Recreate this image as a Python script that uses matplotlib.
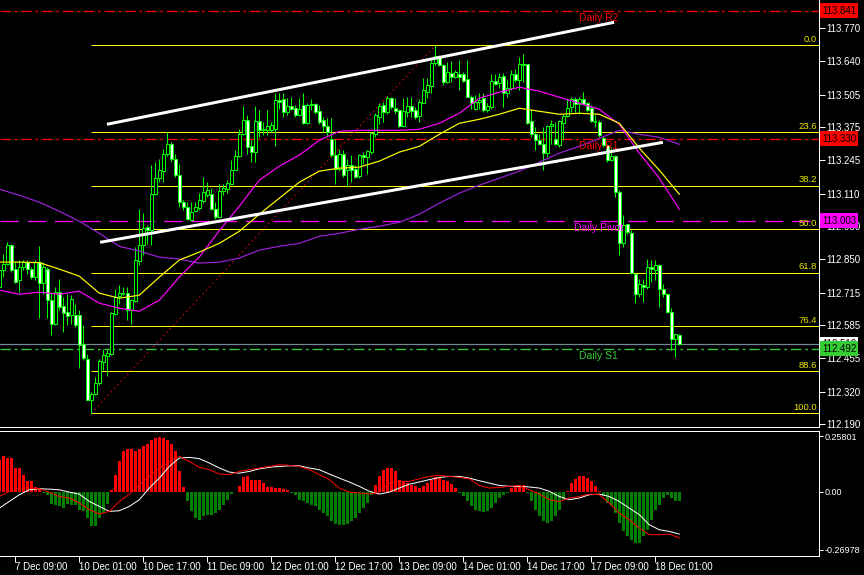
import matplotlib
matplotlib.use('Agg')
import matplotlib.pyplot as plt
import numpy as np
from matplotlib.transforms import blended_transform_factory

plt.rcParams['font.family'] = ['Liberation Sans', 'DejaVu Sans']

# ---------------- data (H1 chart) ----------------
opens = [112.738,112.804,112.831,112.904,112.811,112.765,112.818,112.838,112.811,112.778,
         112.838,112.754,112.811,112.687,112.592,112.718,112.661,112.636,112.625,112.624,
         112.625,112.512,112.452,112.288,112.312,112.356,112.439,112.463,112.472,112.628,
         112.702,112.711,112.714,112.647,112.682,112.842,112.904,112.977,112.964,113.110,
         113.174,113.201,113.267,113.310,113.250,113.186,113.077,113.057,113.004,113.040,
         113.053,113.081,113.104,113.108,113.047,113.018,113.120,113.128,113.150,113.206,
         113.261,113.350,113.403,113.300,113.277,113.399,113.363,113.363,113.363,113.370,
         113.483,113.486,113.436,113.459,113.454,113.423,113.463,113.393,113.463,113.467,
         113.439,113.403,113.379,113.330,113.264,113.210,113.270,113.204,113.226,113.210,
         113.180,113.264,113.257,113.277,113.350,113.416,113.463,113.436,113.490,113.452,
         113.443,113.379,113.436,113.459,113.446,113.419,113.472,113.516,113.539,113.632,
         113.659,113.625,113.556,113.593,113.576,113.589,113.589,113.567,113.496,113.450,
         113.476,113.490,113.443,113.456,113.560,113.550,113.579,113.512,113.530,113.589,
         113.563,113.629,113.627,113.399,113.347,113.326,113.310,113.273,113.379,113.330,
         113.303,113.393,113.419,113.456,113.486,113.467,113.486,113.470,113.454,113.399,
         113.397,113.334,113.303,113.244,113.260,113.117,112.914,112.988,112.954,112.791,
         112.709,112.745,112.738,112.818,112.807,112.827,112.731,112.711,112.638,112.532,
         112.548]
highs = [112.810,112.871,112.917,112.911,112.838,112.844,112.844,112.847,112.818,112.844,
         112.900,112.838,112.818,112.718,112.738,112.771,112.698,112.711,112.705,112.671,
         112.645,112.585,112.469,112.318,112.379,112.452,112.492,112.492,112.638,112.731,
         112.745,112.738,112.738,112.691,112.898,113.050,113.031,112.984,113.223,113.237,
         113.250,113.287,113.356,113.317,113.270,113.230,113.084,113.077,113.077,113.077,
         113.111,113.177,113.157,113.131,113.077,113.150,113.150,113.164,113.244,113.284,
         113.370,113.460,113.423,113.323,113.459,113.443,113.397,113.443,113.397,113.510,
         113.512,113.512,113.490,113.494,113.463,113.490,113.510,113.470,113.486,113.470,
         113.463,113.416,113.414,113.414,113.330,113.290,113.284,113.250,113.264,113.224,
         113.270,113.277,113.284,113.357,113.432,113.470,113.476,113.499,113.496,113.490,
         113.450,113.490,113.496,113.496,113.456,113.486,113.573,113.573,113.643,113.702,
         113.663,113.629,113.636,113.640,113.603,113.643,113.596,113.643,113.503,113.503,
         113.510,113.510,113.470,113.589,113.589,113.592,113.592,113.563,113.603,113.609,
         113.656,113.667,113.629,113.450,113.377,113.350,113.377,113.383,113.403,113.397,
         113.403,113.430,113.490,113.496,113.496,113.496,113.516,113.476,113.463,113.423,
         113.403,113.339,113.310,113.297,113.263,113.124,113.024,112.991,112.964,112.794,
         112.771,112.771,112.851,112.845,112.845,112.831,112.751,112.714,112.652,112.552,
         112.552]
lows = [112.730,112.778,112.824,112.798,112.752,112.718,112.804,112.791,112.771,112.765,
        112.612,112.711,112.612,112.545,112.585,112.645,112.558,112.585,112.592,112.578,
        112.416,112.445,112.285,112.234,112.308,112.346,112.408,112.381,112.468,112.625,
        112.671,112.705,112.605,112.592,112.678,112.824,112.864,112.911,112.904,113.106,
        113.157,113.157,113.259,113.237,113.177,113.057,113.044,113.004,113.000,113.037,
        113.044,113.071,113.097,113.044,113.011,113.014,113.104,113.111,113.148,113.204,
        113.257,113.343,113.270,113.237,113.237,113.337,113.343,113.343,113.357,113.300,
        113.450,113.416,113.423,113.443,113.416,113.419,113.390,113.390,113.443,113.430,
        113.390,113.357,113.337,113.257,113.150,113.200,113.177,113.137,113.157,113.171,
        113.171,113.230,113.190,113.270,113.337,113.390,113.397,113.430,113.450,113.430,
        113.377,113.377,113.416,113.416,113.410,113.397,113.470,113.490,113.510,113.623,
        113.619,113.543,113.550,113.556,113.573,113.523,113.556,113.494,113.450,113.446,
        113.450,113.436,113.436,113.450,113.543,113.530,113.456,113.496,113.523,113.556,
        113.523,113.556,113.390,113.337,113.286,113.303,113.204,113.257,113.310,113.303,
        113.297,113.323,113.417,113.436,113.436,113.430,113.463,113.436,113.397,113.377,
        113.337,113.297,113.237,113.240,113.097,112.865,112.898,112.951,112.791,112.672,
        112.698,112.678,112.731,112.758,112.765,112.658,112.698,112.634,112.485,112.459,
        112.505]
closes = [112.804,112.831,112.904,112.807,112.758,112.818,112.838,112.811,112.778,112.838,
          112.754,112.818,112.687,112.592,112.718,112.658,112.634,112.622,112.691,112.588,
          112.508,112.455,112.288,112.312,112.356,112.441,112.465,112.475,112.634,112.698,
          112.715,112.709,112.647,112.685,112.847,112.904,112.973,112.964,113.110,113.174,
          113.203,113.267,113.310,113.250,113.184,113.077,113.057,113.011,113.037,113.055,
          113.084,113.117,113.124,113.047,113.018,113.120,113.133,113.153,113.206,113.261,
          113.350,113.406,113.297,113.277,113.399,113.363,113.369,113.379,113.383,113.483,
          113.476,113.436,113.459,113.450,113.423,113.447,113.393,113.463,113.466,113.436,
          113.397,113.379,113.357,113.264,113.210,113.270,113.184,113.226,113.206,113.177,
          113.266,113.257,113.280,113.353,113.423,113.459,113.436,113.490,113.456,113.440,
          113.379,113.439,113.460,113.440,113.416,113.476,113.523,113.543,113.632,113.659,
          113.625,113.556,113.596,113.576,113.596,113.576,113.560,113.496,113.470,113.476,
          113.483,113.443,113.459,113.560,113.547,113.576,113.510,113.530,113.589,113.563,
          113.629,113.623,113.393,113.347,113.323,113.310,113.273,113.379,113.387,113.310,
          113.399,113.419,113.454,113.486,113.467,113.486,113.467,113.446,113.399,113.397,
          113.343,113.303,113.244,113.260,113.117,112.914,112.984,112.958,112.794,112.709,
          112.751,112.738,112.818,112.811,112.827,112.731,112.711,112.638,112.532,112.549,
          112.510]

# moving averages sampled every 5 bars (bars 0..170)
ma_yellow = [112.837,112.837,112.835,112.809,112.781,112.713,112.693,112.705,112.777,112.845,
             112.877,112.912,112.960,113.028,113.092,113.156,113.200,113.212,113.216,113.240,
             113.276,113.299,113.347,113.391,113.407,113.427,113.451,113.439,113.427,113.431,
             113.427,113.391,113.292,113.204,113.108]
ma_magenta = [112.725,112.709,112.717,112.709,112.721,112.673,112.653,112.641,112.685,112.777,
              112.857,112.962,113.060,113.164,113.220,113.264,113.323,113.359,113.363,113.363,
              113.363,113.367,113.391,113.431,113.491,113.515,113.535,113.519,113.495,113.471,
              113.447,113.387,113.272,113.172,113.048]
ma_purple = [113.128,113.104,113.076,113.040,113.000,112.952,112.900,112.881,112.857,112.849,
             112.833,112.837,112.853,112.885,112.900,112.912,112.940,112.952,112.968,112.980,
             112.996,113.028,113.072,113.112,113.144,113.172,113.200,113.236,113.272,113.299,
             113.331,113.363,113.347,113.335,113.307]

# MACD histogram (one value per bar)
macd_hist = [0.148,0.164,0.156,0.156,0.110,0.110,0.079,0.051,0.048,0.020,
             0.017,-0.004,-0.017,-0.057,-0.060,-0.068,-0.076,-0.057,-0.060,-0.060,
             -0.083,-0.091,-0.122,-0.160,-0.160,-0.122,-0.099,-0.057,0.009,0.079,
             0.140,0.190,0.200,0.200,0.190,0.200,0.210,0.220,0.240,0.250,
             0.255,0.250,0.240,0.220,0.190,0.094,0.020,-0.045,-0.091,-0.122,
             -0.130,-0.114,-0.106,-0.106,-0.099,-0.083,-0.060,-0.037,-0.011,-0.003,
             0.025,0.066,0.071,0.056,0.056,0.056,0.040,0.022,0.020,0.017,
             0.017,0.014,0.009,-0.006,-0.017,-0.037,-0.045,-0.052,-0.060,-0.068,
             -0.083,-0.099,-0.114,-0.137,-0.150,-0.156,-0.153,-0.150,-0.137,-0.122,
             -0.099,-0.076,-0.052,-0.014,0.032,0.071,0.102,0.110,0.110,0.094,
             0.056,0.048,0.040,0.032,0.025,0.017,0.025,0.040,0.056,0.066,
             0.066,0.056,0.048,0.035,0.017,-0.006,-0.022,-0.045,-0.068,-0.083,
             -0.091,-0.094,-0.091,-0.076,-0.052,-0.029,-0.014,-0.006,0.017,0.025,
             0.029,0.032,-0.006,-0.045,-0.083,-0.114,-0.137,-0.145,-0.137,-0.114,
             -0.083,-0.037,0.002,0.040,0.060,0.071,0.071,0.063,0.048,0.025,
             0.005,-0.022,-0.052,-0.068,-0.099,-0.145,-0.184,-0.207,-0.222,-0.238,
             -0.238,-0.207,-0.176,-0.130,-0.083,-0.060,-0.029,-0.014,-0.029,-0.045,
             -0.045]
# MACD lines sampled every 2.5 bars
macd_white = [-0.076,-0.045,-0.014,0.009,0.014,0.012,0.009,-0.002,-0.011,-0.045,
              -0.068,-0.091,-0.088,-0.068,-0.037,0.017,0.063,0.117,0.156,0.159,
              0.153,0.133,0.110,0.091,0.086,0.094,0.106,0.113,0.117,0.120,
              0.120,0.110,0.102,0.082,0.063,0.045,0.025,0.002,-0.011,-0.002,
              0.017,0.035,0.045,0.056,0.066,0.071,0.071,0.063,0.051,0.040,
              0.029,0.025,0.025,0.022,0.017,0.002,-0.022,-0.037,-0.029,-0.014,
              -0.011,-0.022,-0.045,-0.076,-0.106,-0.153,-0.176,-0.184,-0.196]
macd_red = [-0.022,0.002,0.017,0.017,0.014,-0.002,-0.022,-0.029,-0.052,-0.083,
            -0.103,-0.091,-0.045,-0.011,0.032,0.071,0.110,0.140,0.164,0.140,
            0.113,0.102,0.082,0.079,0.094,0.102,0.110,0.117,0.125,0.122,
            0.117,0.102,0.079,0.056,0.017,-0.002,-0.006,-0.011,-0.002,0.040,
            0.048,0.048,0.060,0.071,0.076,0.071,0.066,0.060,0.029,0.017,
            0.020,0.025,0.029,0.009,-0.011,-0.037,-0.045,-0.029,-0.022,-0.011,
            -0.014,-0.052,-0.099,-0.130,-0.168,-0.199,-0.199,-0.196,-0.214]

# levels
pivot_levels = {'Daily R2': 113.841, 'Daily R1': 113.330, 'Daily Pivot': 113.003, 'Daily S1': 112.492}
bid_price = 112.510
fib_low, fib_high = 112.234, 113.702
fib_low_bar, fib_high_bar = 23, 109
fib_levels = [0.0, 23.6, 38.2, 50.0, 61.8, 76.4, 88.6, 100.0]
channel_upper = [(26.9, 113.387), (153.7, 113.794)]
channel_lower = [(25.2, 112.916), (165.9, 113.315)]

price_ticks = [113.770, 113.640, 113.505, 113.375, 113.245, 113.110, 112.980,
               112.850, 112.715, 112.585, 112.455, 112.320, 112.190]
macd_ticks = [0.25801, 0.0, -0.26978]
macd_tick_labels = ['0.25801', '0.00', '-0.26978']
date_bars = [4, 20, 36, 52, 68, 84, 100, 116, 132, 148, 164]
date_labels = ['7 Dec 09:00', '10 Dec 01:00', '10 Dec 17:00', '11 Dec 09:00', '12 Dec 01:00',
               '12 Dec 17:00', '13 Dec 09:00', '14 Dec 01:00', '14 Dec 17:00', '17 Dec 09:00',
               '18 Dec 01:00']

# ---------------- figure ----------------
W, H = 864, 575
PX = 0.72  # points per pixel
fig = plt.figure(figsize=(W / 100, H / 100), dpi=100, facecolor='black')
ax = fig.add_axes([0, 1 - 427 / H, 819 / W, 427 / H], facecolor='black')
ax2 = fig.add_axes([0, 1 - 556 / H, 819 / W, 125 / H], facecolor='black')

xmin, xmax = 0.175, 204.925
ax.set_xlim(xmin, xmax)
ax2.set_xlim(xmin, xmax)
ax.set_ylim(112.179, 113.883)
ax2.set_ylim(-0.2976, 0.2812)

LIME = '#00ff00'
n = len(opens)
idx = np.arange(n)

# wicks
ax.vlines(idx, lows, highs, color=LIME, lw=PX, zorder=3)
# bodies
for i in range(n):
    o, c = opens[i], closes[i]
    lo, hi = min(o, c), max(o, c)
    fc = 'black' if c >= o else '#f0fff0'
    if hi - lo < 0.003:
        ax.hlines((o + c) / 2, i - 0.4, i + 0.4, color=LIME, lw=PX * 1.5, zorder=4)
    else:
        ax.add_patch(plt.Rectangle((i - 0.32, lo), 0.64, hi - lo, facecolor=fc,
                                   edgecolor=LIME, lw=PX, zorder=4))

# moving averages
ma_t = np.arange(0, n, 5)
ax.plot(ma_t, ma_purple, color='#9a22d8', lw=PX * 1.2, zorder=5)
ax.plot(ma_t, ma_magenta, color='#ff00ff', lw=PX * 1.2, zorder=5)
ax.plot(ma_t, ma_yellow, color='#ffff00', lw=PX * 1.2, zorder=5)

# fibonacci
span = fib_high - fib_low
for lv in fib_levels:
    p = fib_high - lv / 100 * span
    ax.hlines(p, fib_low_bar, xmax, color='#ffff00', lw=PX, zorder=2)
    ax.annotate(f'{lv:.1f}', (204.4, p), xytext=(0, 1), textcoords='offset points',
                ha='right', va='bottom', color='#e8e800', fontsize=6.8, zorder=6)
ax.plot([fib_low_bar, fib_high_bar], [fib_low, fib_high], color='red',
        ls=(0, (1, 3)), lw=PX * 1.2, zorder=2)

# pivot lines
piv_style = {'Daily R2': ('#ff0000', (0, (8, 3, 2, 3))),
             'Daily R1': ('#ff0000', (0, (8, 3, 2, 3))),
             'Daily Pivot': ('#ff00ff', (0, (14, 7))),
             'Daily S1': ('#32cd32', (0, (8, 3, 2, 3)))}
for name, p in pivot_levels.items():
    col, ls = piv_style[name]
    ax.axhline(p, color=col, ls=ls, lw=PX * 1.3, zorder=2)
    ax.annotate(name, (149.9, p), xytext=(0, -1.5), textcoords='offset points',
                ha='center', va='top', color=col, fontsize=7.5, zorder=6)

# bid line
ax.axhline(bid_price, color='#778899', lw=PX * 1.2, zorder=2)

# channel lines
for seg in (channel_upper, channel_lower):
    ax.plot([seg[0][0], seg[1][0]], [seg[0][1], seg[1][1]], color='white',
            lw=PX * 3, solid_capstyle='butt', zorder=6)

# axes styling
for a in (ax, ax2):
    a.yaxis.tick_right()
    a.tick_params(axis='y', colors='white', labelcolor='white', length=4, width=PX,
                  labelsize=7, pad=1.5, direction='out')
    for s in a.spines.values():
        s.set_color('white')
        s.set_linewidth(PX)
    a.spines['left'].set_visible(False)
ax.spines['top'].set_visible(False)
ax.set_yticks(price_ticks)
ax.set_yticklabels([f'{t:.3f}' for t in price_ticks])
ax.set_xticks([])

ax2.set_yticks(macd_ticks)
ax2.set_yticklabels(macd_tick_labels)
ax2.tick_params(axis='y', labelsize=6.5, pad=1, length=3)
ax2.set_xticks(date_bars)
ax2.set_xticklabels(date_labels, ha='left')
ax2.tick_params(axis='x', colors='white', labelcolor='white', length=4, width=PX,
                labelsize=7, pad=0.5, direction='out')

# MACD
cols = ['#ff0000' if v > 0 else '#008000' for v in macd_hist]
ax2.bar(idx, macd_hist, width=0.75, color=cols, lw=0, zorder=2)
macd_t = np.arange(0, 170.1, 2.5)
ax2.plot(macd_t, macd_white, color='white', lw=PX, zorder=3)
ax2.plot(macd_t, macd_red, color='#ff0000', lw=PX, zorder=3)

# colored price boxes on the axis
tb = blended_transform_factory(fig.transFigure, ax.transData)
boxes = [(pivot_levels['Daily R2'], '#ff0000'), (pivot_levels['Daily R1'], '#ff0000'),
         (pivot_levels['Daily Pivot'], '#ff00ff'), (bid_price, '#ffffff'),
         (pivot_levels['Daily S1'], '#32cd32')]
for p, col in boxes:
    fig.text(822 / W, p, f'{p:.3f}', transform=tb, ha='left', va='center', fontsize=7,
             color='black', bbox=dict(boxstyle='square,pad=0.22', fc=col, ec='none'), zorder=10)

fig.savefig('out.png', dpi=100, facecolor='black')
